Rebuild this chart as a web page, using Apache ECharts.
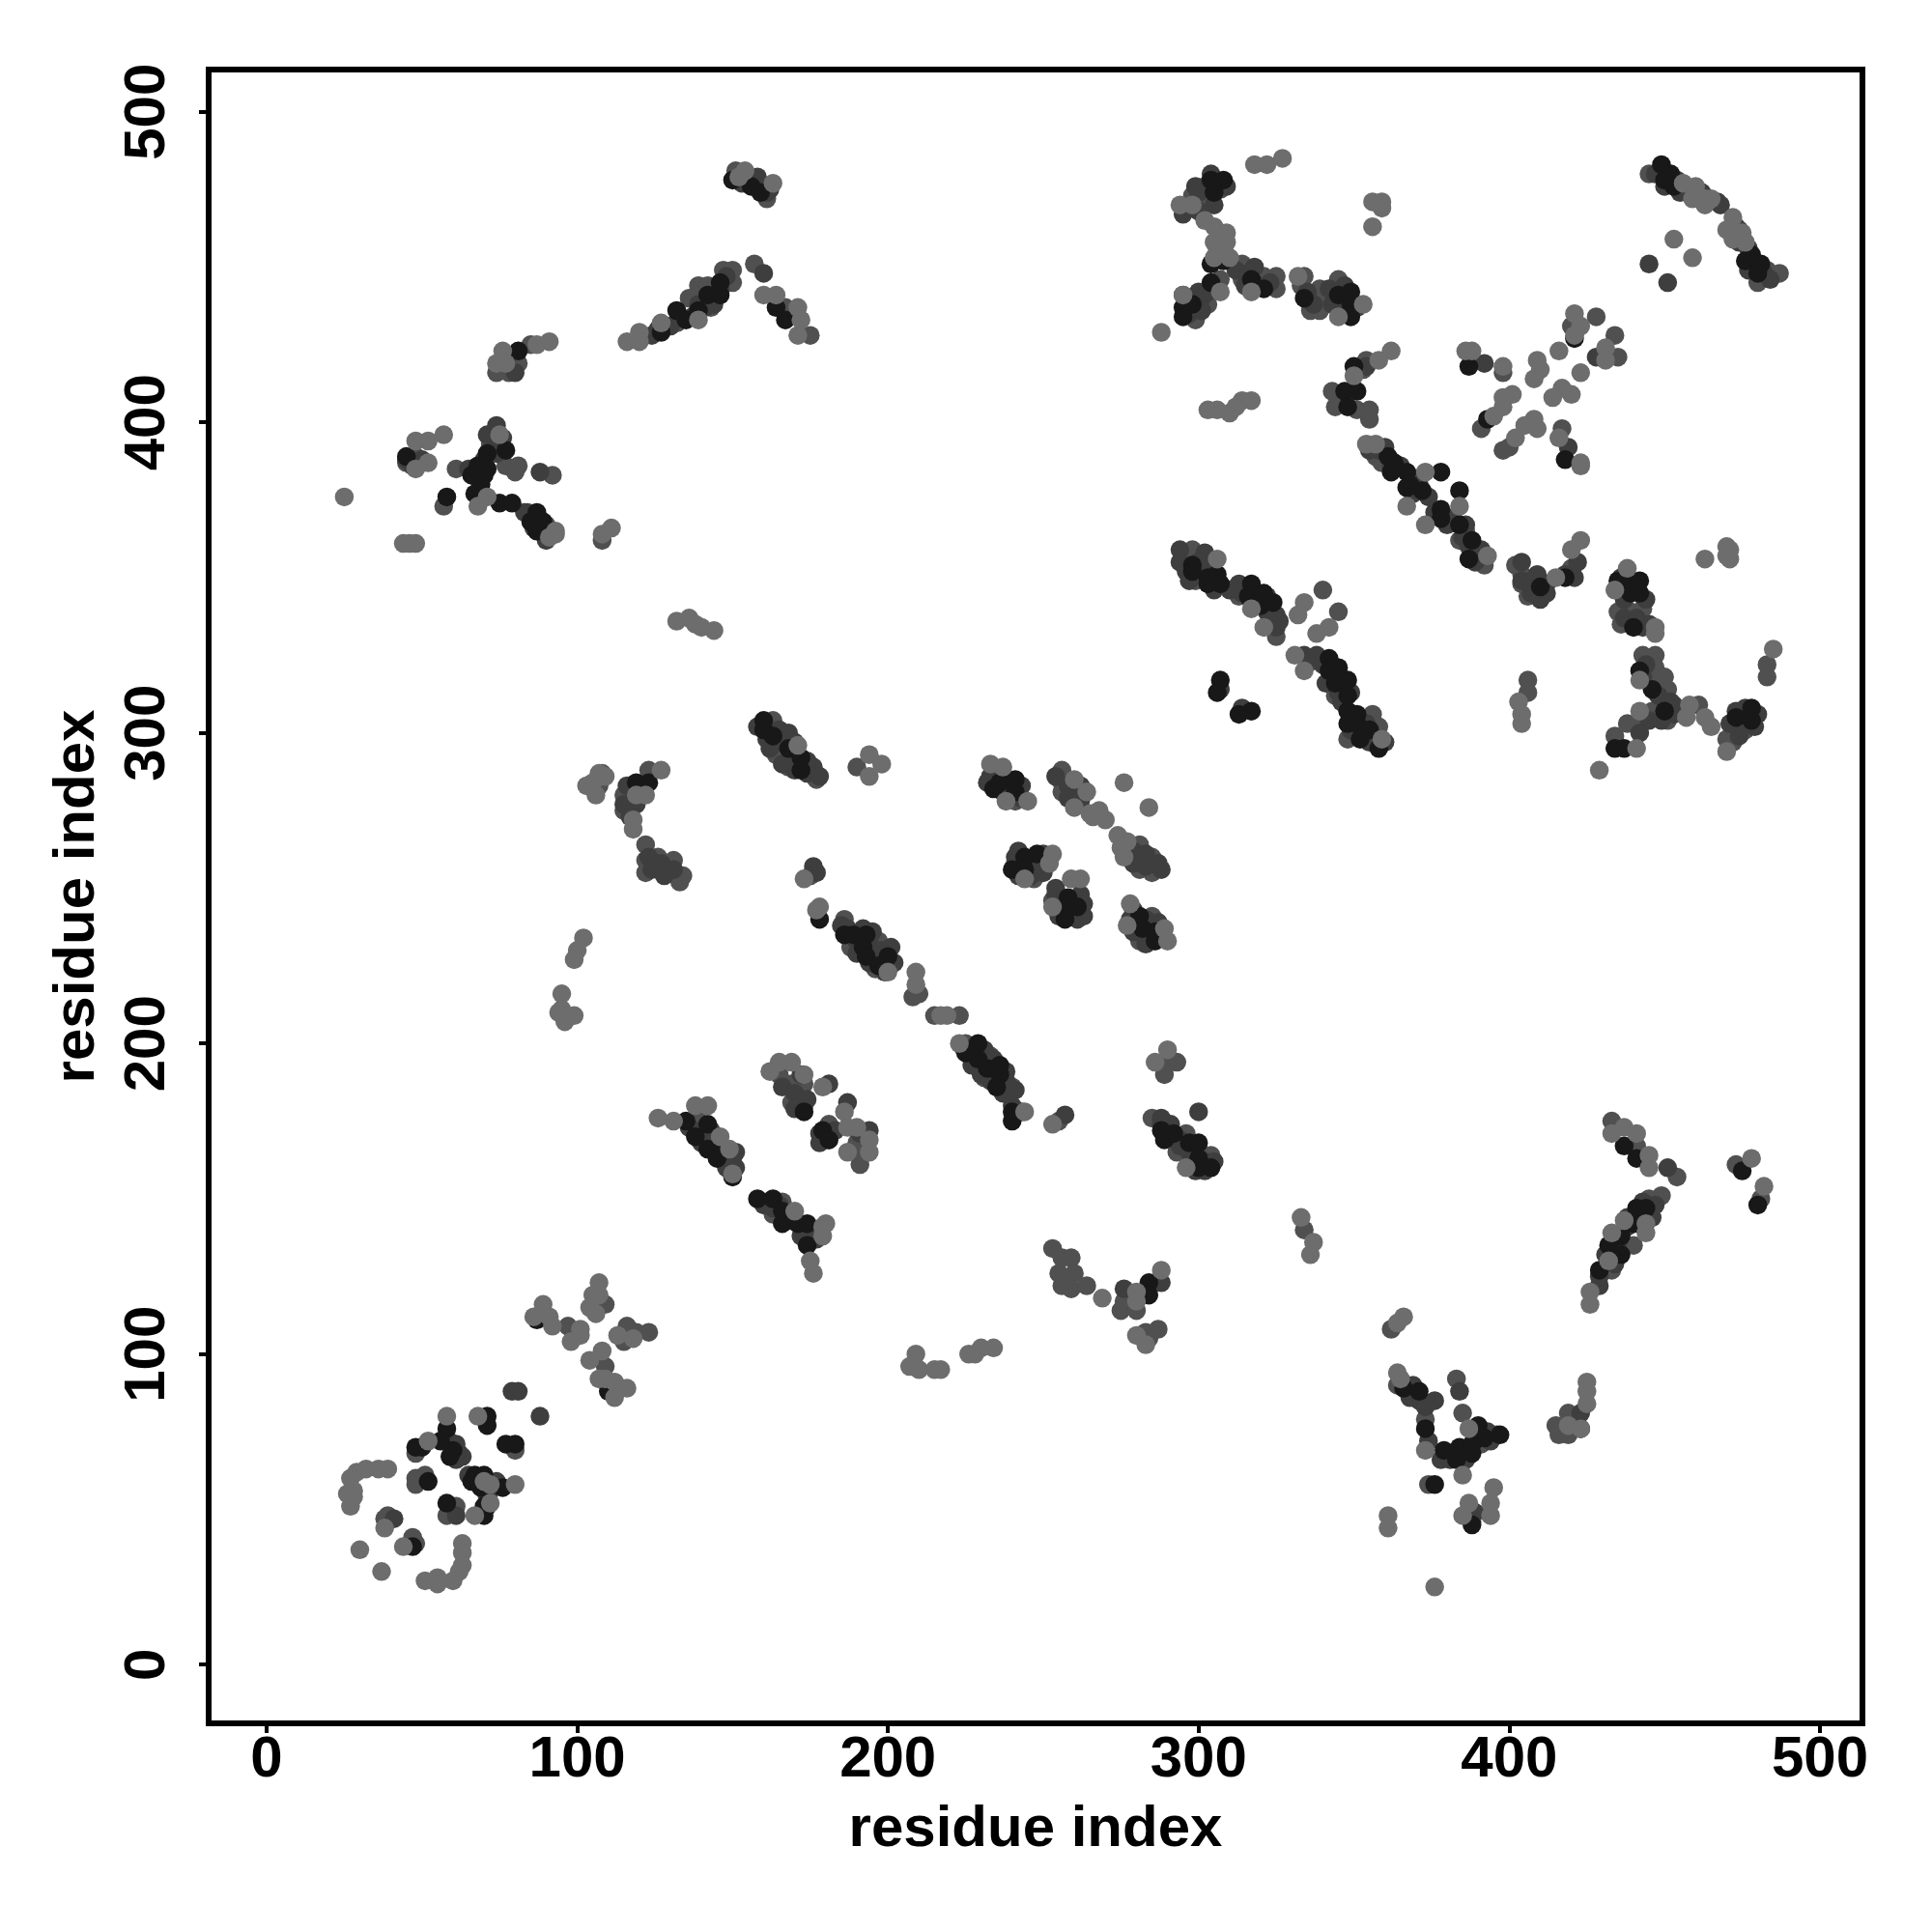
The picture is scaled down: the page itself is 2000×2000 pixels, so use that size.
<!DOCTYPE html>
<html>
<head>
<meta charset="utf-8">
<style>html,body{margin:0;padding:0;background:#fff}#c{width:2000px;height:2000px}</style>
<script src="https://cdn.jsdelivr.net/npm/echarts@6/dist/echarts.min.js"></script>
</head>
<body>
<div id="c"></div>
<script>
const tickValues = [0, 100, 200, 300, 400, 500];
const axisTitle = "residue index";

const midPoints = [
[57,72],[80,69],[48,68],[48,60],[48,58],[51,61],[61,51],[58,48],[39,48],[38,47],[47,41],[48,39],[106,117],[109,116],[97,109],[116,109],[115,104],[119,107],[123,107],[109,96],
[151,481],[156,478],[161,472],[161,474],[157,451],[167,437],[175,428],[132,432],[136,440],[139,444],[142,444],[143,437],[147,449],[150,449],[150,445],
[85,425],[81,419],[74,416],[78,416],[45,387],[48,389],[61,385],[81,386],[77,386],[80,384],[72,393],[71,389],[84,371],[90,367],[57,373],[92,383],[108,362],
[164,293],[163,304],[168,289],[177,285],[190,289],[123,288],[115,280],[115,275],[108,287],[107,283],[122,264],[122,259],[122,255],[126,260],[126,256],[131,259],[130,255],[134,254],[133,252],[175,254],
[186,240],[188,231],[197,233],[196,228],[196,224],[200,225],[210,216],[208,215],[215,209],[223,209],[225,200],[233,196],[231,189],[240,186],[255,175],
[139,175],[165,190],[169,187],[173,187],[169,181],[181,174],[181,169],[190,168],[191,165],[191,161],
[256,288],[256,284],[256,281],[260,281],[241,278],[281,264],[285,260],[281,256],[285,255],[248,258],[247,253],[253,246],[285,241],[281,233],
[293,194],[289,193],[289,190],[285,176],[296,171],[293,165],[304,164],[161,149],[166,149],[163,145],[174,139],
[298,473],[302,476],[302,472],[307,475],[314,451],[314,446],[321,447],[325,447],[325,443],[307,446],[303,438],[299,433],
[334,447],[333,444],[336,436],[339,443],[340,440],[339,436],[345,446],[354,420],[353,417],[343,410],[344,405],[351,404],[355,404],[355,401],
[357,389],[359,387],[386,365],[384,362],[389,358],[392,354],
[428,434],[420,431],[434,428],[435,421],[398,416],[391,398],[400,392],[398,391],[417,398],
[445,480],[483,449],[487,448],[480,445],
[298,359],[299,349],[313,344],[325,331],[340,346],[345,339],[344,312],
[356,306],[358,302],[348,298],[406,317],[406,313],[402,354],[404,351],[404,348],[408,347],[406,344],[420,353],
[435,339],[439,339],[443,340],[436,335],[443,325],[447,325],[447,321],[450,318],[446,316],[451,314],[451,304],[461,309],[446,307],[438,303],[442,303],[434,299],[472,301],[476,301],[470,298],[472,297],[483,322],[483,318],
[433,175],[441,167],[454,157],[473,161],[481,150],[449,151],[445,150],[433,127],[440,135],
[334,140],[253,134],[256,131],[259,131],[260,126],[255,126],[256,122],[259,121],[264,122],[276,117],[275,114],[280,114],[287,108],[283,107],[284,105],[362,108],[364,90],[383,92],[373,79],[385,81],[396,74],[391,71],[379,67],[374,58],[388,46],[415,77],[419,81],[416,74],[419,74]
];
const deepPoints = [
[79,88],[81,88],[88,80],[62,68],[61,48],[41,47],[160,448],[158,479],[161,474],
[88,384],[83,371],[176,257],[177,255],[172,190],[168,300],[176,289],[181,187],[173,180],[187,181],[150,163],
[241,260],[233,286],[262,248],[261,240],[278,240],[288,256],[281,259],[257,177],[288,176],
[300,178],[295,441],[300,442],[318,450],[354,418],[392,419],[428,421],[419,392],[445,451],[451,445],[294,359],[302,358],[313,348],[325,338],[325,334],[334,325],[338,325],[345,321],[314,308],[404,355],[409,351],[410,343],
[443,334],[453,309],[445,304],[442,300],[476,308],[423,81],[384,88],[389,49],[429,122],[451,160],[288,123],[276,121],[307,314],
[185,238],[187,237],[190,233],[194,233],[190,229],[194,226],[198,230],[199,223],[202,226],[201,231],[195,236],[192,237],
[224,199],[227,198],[231,198],[234,195],[227,193],[230,190],[233,188],[238,191],[238,188],[237,184],[241,185],[243,178],[240,180],
[158,302],[161,298],[165,301],[166,297],[162,295],[170,297],[170,292],[166,290],[174,291],[174,287],[170,288],[178,286],
[232,284],[237,281],[239,284],[243,283],[243,279],[239,279],[235,287],
[254,286],[258,283],[262,283],[258,279],[262,278],
[241,258],[245,258],[249,258],[250,261],[242,254],[246,254],[250,255],[242,262],
[254,248],[256,245],[259,244],[263,245],[263,241],[259,241],[255,241],[254,250],
[279,243],[283,240],[287,239],[279,236],[283,235],[288,234],[283,232],
[279,262],[283,261],[283,257],[287,258],[279,258],[277,262],
[136,173],[140,172],[143,172],[140,168],[144,168],[147,164],[148,163],[143,170],[151,160],[151,165],[148,160],
[160,148],[163,147],[168,145],[165,148],[169,143],[172,141],[172,138],[176,140],[177,137],
[288,174],[291,174],[290,170],[294,169],[294,167],[297,165],[298,162],[302,162],[302,159],[299,159],[305,162],
[455,474],[450,476],[447,480],[454,478],[458,474],[462,474],[467,471],[468,470],[473,463],[474,458],[477,456],[474,462],[478,450],[482,448],[484,446],[477,449],
[358,391],[362,386],[365,386],[369,382],[371,380],[374,376],[369,377],[376,371],[379,370],[380,367],[382,369],[385,363],[387,360],[390,358],[389,355],[391,359],[386,367],[355,391],[360,392],
[294,355],[296,352],[300,351],[300,355],[303,353],[297,349],[305,346],[310,346],[314,345],[318,342],[322,339],[323,336],[322,344],[326,336],
[336,323],[340,322],[345,317],[347,314],[345,313],[341,316],[344,320],[349,313],[346,310],
[350,304],[354,303],[356,299],[354,300],[349,301],[355,297],[360,297],
[304,480],[300,474],[299,476],[306,476],[309,476],[305,470],[295,467],[300,468],
[301,440],[297,435],[303,442],[299,437],[301,436],[315,444],[319,444],[323,445],[312,449],[316,448],[335,442],[337,438],[343,438],[347,436],[342,443],[347,444],[351,437],
[436,350],[440,346],[444,343],[437,343],[441,337],[437,337],[445,335],[441,336],[444,322],[443,318],[448,312],[452,310],[453,306],[449,304],
[473,307],[475,303],[480,306],[479,302],[474,299],[471,303],[477,305],
[404,349],[407,349],[407,345],[412,348],[412,345],[418,351],[421,350],[422,355],
[435,136],[438,141],[442,145],[446,144],[443,149],[447,148],[438,144],[431,132],[434,129],[429,125],
[376,85],[369,90],[371,85],[373,83],[368,86],[374,72],[378,66],[381,66],[384,68],[386,66],[390,74],[394,72],[393,75],
[58,73],[61,71],[63,67],[61,66],[65,61],[68,59],[72,56],[74,59],[71,54],
[73,392],[70,388],[67,383],[65,385],[68,382],[74,390],[76,395],[71,396],[74,399],
[86,369],[88,367],[89,365],[91,365],[90,362],[86,366],
[130,431],[133,434],[137,434],[139,438],[143,440],[146,443],[148,447],[144,438],[141,437],[126,430],[124,428],
[115,277],[119,277],[116,283],[117,273],[123,260],[127,258],[124,256],[128,254],[131,256],
[45,388],[50,388],[47,386],[77,420],[80,416],[160,476],[158,476],[162,475],[155,479],[153,477],
[166,186],[170,184],[170,179],[174,182],[178,171],[183,172],[178,168],[191,171],[194,172]
];
const darkPoints = [
[71,80],[71,77],[77,71],[80,71],[48,70],[50,70],[58,76],[60,69],[59,67],[56,72],[52,59],[67,61],[70,61],[66,59],[69,57],[76,57],[58,52],[71,51],[70,48],[70,51],[47,38],[87,111],[110,88],
[150,478],[156,476],[159,474],[164,437],[167,433],[127,429],[135,433],[132,436],[139,436],[142,441],[146,441],[146,445],
[81,423],[45,389],[77,391],[71,390],[68,386],[66,383],[69,380],[71,385],[70,383],[67,377],[58,376],[75,374],[79,374],[87,371],[85,368],[87,365],[89,368],
[160,304],[160,301],[163,299],[168,295],[172,292],[172,288],[119,284],[123,284],[178,240],
[186,235],[189,235],[193,235],[192,231],[193,228],[200,228],[197,225],
[229,200],[225,197],[229,195],[232,192],[236,193],[236,190],[235,186],[240,178],[240,175],
[135,175],[142,174],[138,170],[142,166],[146,166],[145,163],[150,157],[173,178],[179,172],[181,169],
[234,282],[236,284],[241,285],[241,281],[244,260],[248,261],[240,256],[244,256],[258,247],[257,243],[261,244],[257,240],[281,241],[282,237],[286,236],[286,233],
[288,172],[289,169],[292,171],[297,168],[300,168],[300,163],[300,160],[304,160],[158,150],[163,150],[166,146],[166,142],[171,142],[174,142],[174,135],
[304,478],[308,478],[305,474],[304,451],[308,452],[317,446],[321,443],[304,445],[295,437],[298,438],[295,434],[334,440],[345,441],[349,442],[349,438],[349,434],
[350,418],[347,410],[351,410],[348,405],[361,389],[363,387],[367,384],[362,384],[368,380],[372,378],[367,379],[378,384],[384,378],[378,372],[378,369],[384,367],[388,362],[387,356],
[421,427],[387,418],[393,401],[418,388],[449,483],[452,480],[453,476],[450,478],[478,454],[476,452],[481,451],[480,448],
[298,354],[303,350],[306,351],[307,348],[303,348],[298,352],[317,348],[316,344],[321,345],[320,341],[324,342],
[342,324],[342,320],[345,321],[344,316],[348,317],[348,312],[307,317],[306,313],[317,307],[313,306],
[348,307],[351,306],[348,303],[351,303],[352,298],[355,301],[358,295],[410,347],[418,350],
[435,349],[439,349],[442,349],[439,345],[442,345],[440,334],[442,320],[446,314],[450,307],[434,295],[437,295],[478,308],[473,305],[478,304],
[437,167],[441,163],[475,159],[480,148],[444,147],[441,147],[440,142],[436,138],[432,135],[436,132],[429,127],
[284,123],[284,119],[366,89],[371,88],[373,76],[390,77],[397,74],[392,73],[379,69],[384,70],[383,66],[388,71],[388,68],[376,58],[388,45],[423,76]
];
const lightPoints = [
[58,80],[68,80],[52,72],[72,58],[70,59],[80,58],[72,52],[67,48],[39,63],[36,63],[32,63],[29,62],[27,60],[28,54],[26,55],[27,51],[28,56],[38,44],[30,37],[37,30],[44,38],[63,39],[63,36],[63,32],[62,30],[60,27],[55,28],[55,26],[51,27],
[107,123],[105,119],[107,119],[104,115],[106,113],[89,116],[86,112],[91,112],[92,109],[101,108],[98,104],[101,106],[113,106],[118,105],[108,101],[104,98],[109,92],[112,91],[116,89],[112,86],[107,92],
[154,481],[152,479],[163,477],[160,441],[164,441],[171,437],[172,433],[171,428],[116,426],[120,429],[120,426],[127,432],[139,433],
[91,426],[87,425],[76,423],[77,419],[74,419],[57,396],[52,394],[48,394],[52,387],[48,385],[75,396],[71,376],[68,373],[93,365],[91,363],[93,364],[25,376],[44,361],[46,361],[48,361],[111,366],[108,364],
[132,336],[136,337],[138,335],[140,334],[144,333],[171,296],[194,293],[198,290],[194,286],[127,288],[119,280],[122,280],[118,269],[118,272],[173,253],[178,244],[177,243],
[102,234],[100,230],[99,227],[95,216],[95,211],[96,207],[99,209],[94,210],[107,287],[105,284],[103,283],[106,280],[109,286],
[200,223],[209,223],[209,219],[217,209],[219,209],[223,200],[244,178],[253,174],
[126,176],[131,175],[138,180],[142,180],[146,170],[149,166],[150,158],[162,191],[165,194],[169,194],[173,190],[179,186],[186,178],[187,173],[190,173],[194,169],[187,165],[194,165],
[233,290],[237,289],[238,278],[245,278],[260,285],[264,281],[260,276],[266,274],[265,274],[266,273],[268,275],[270,272],[276,284],[284,276],[274,267],[275,263],[276,260],[277,265],[253,261],[252,258],[244,253],[259,253],[262,253],[253,244],[278,245],[277,238],[289,237],[290,233],
[290,198],[286,194],[296,160],[179,141],[179,138],[175,130],[176,126],[180,142],[170,146],
[318,483],[322,483],[327,485],[356,471],[359,471],[359,469],[356,463],[294,470],[298,470],[302,465],[305,463],[309,461],[309,458],[305,458],[306,455],[305,453],[310,453],[317,442],[307,442],[295,441],[288,429],[332,447],[345,434],[353,438],
[362,423],[358,420],[350,415],[354,393],[357,393],[373,384],[367,373],[384,373],[373,367],[393,357],
[421,435],[423,431],[421,428],[416,423],[431,424],[431,420],[423,416],[409,420],[410,417],[408,414],[386,423],[388,423],[398,418],[401,409],[398,408],[398,405],[417,411],[414,408],[420,409],[395,402],[408,401],[405,399],[409,398],[402,395],[416,395],[423,387],[423,386],
[303,404],[306,404],[310,403],[314,407],[317,407],[312,405],[456,477],[460,476],[459,472],[463,472],[465,472],[463,470],[472,466],[470,462],[475,461],[472,459],[476,458],[453,459],[459,453],
[306,356],[317,340],[321,334],[334,342],[332,338],[342,334],[338,332],[331,325],[334,320],[359,298],[403,310],[404,306],[404,303],[415,350],[420,359],[423,362],
[438,353],[434,346],[447,334],[447,332],[442,317],[458,309],[457,305],[463,305],[465,302],[442,307],[441,295],[429,288],[470,294],[485,327],[463,356],[470,360],[471,359],[470,357],[471,356],
[437,173],[433,171],[441,171],[445,164],[445,160],[478,163],[482,154],[444,142],[437,143],[444,139],[433,139],[432,130],[426,120],[426,116],
[333,144],[337,136],[336,132],[269,118],[280,120],[280,117],[288,127],[280,106],[283,103],[366,112],[364,110],[364,94],[365,92],[373,69],[387,76],[385,61],[395,57],[394,52],[387,52],[394,48],[385,48],[361,48],[361,44],[376,25],[425,91],[425,88],[425,84],[423,76],[419,77],
[207,96],[209,100],[210,95],[215,95],[217,95],[226,100],[228,100],[230,102],[234,102]
];

const shades = [
  ["mid", midPoints, "#505050"],
  ["deep", deepPoints, "#3e3e3e"],
  ["dark", darkPoints, "#181818"],
  ["light", lightPoints, "#6d6d6d"]
];
const font = {color:"#000", fontFamily:"Liberation Sans", fontWeight:"bold", fontSize:60};
const chart = echarts.init(document.getElementById("c"), null, {renderer:"canvas", width:2000, height:2000});
chart.setOption({
  animation:false,
  backgroundColor:"#fff",
  grid:{left:216, top:72, width:1712, height:1712, show:true, borderColor:"#000", borderWidth:6, backgroundColor:"transparent"},
  xAxis:{type:"value", min:-18.66, max:513.7, name:axisTitle, nameLocation:"middle", nameGap:80,
    nameTextStyle:font,
    axisLine:{show:false, onZero:false}, splitLine:{show:false},
    axisTick:{show:true, length:10, lineStyle:{color:"#000", width:4}, customValues:tickValues},
    axisLabel:{...font, margin:8, customValues:tickValues, hideOverlap:false, showMinLabel:true, showMaxLabel:true, formatter:v=>String(v)}
  },
  yAxis:{type:"value", min:-18.9, max:513.6, name:axisTitle, nameLocation:"middle", nameGap:106,
    nameTextStyle:font,
    axisLine:{show:false, onZero:false}, splitLine:{show:false},
    axisTick:{show:true, length:10, lineStyle:{color:"#000", width:4}, customValues:tickValues},
    axisLabel:{...font, margin:63, rotate:90, customValues:tickValues, hideOverlap:false, verticalAlign:"middle", align:"center", formatter:v=>String(v)}
  },
  series:shades.map(([name,data,color])=>({
    type:"scatter", name, data, symbol:"circle", symbolSize:19.5,
    itemStyle:{color, opacity:1}, silent:true
  }))
});
</script>
</body>
</html>
